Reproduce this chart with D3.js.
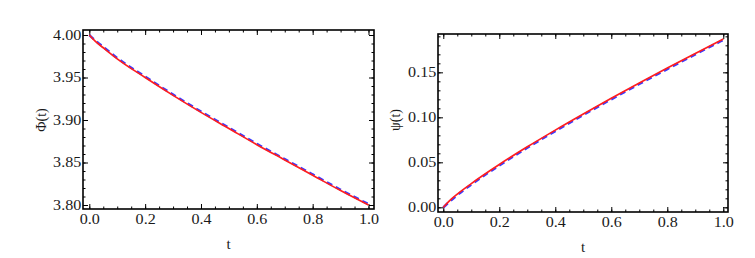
<!DOCTYPE html>
<html>
<head>
<meta charset="utf-8">
<script src="https://cdn.jsdelivr.net/npm/d3@7"></script>
<style>
  body { margin: 0; background: #fff; }
  svg { display: block; }
  .tick line { stroke: #000; stroke-width: 1; }
</style>
</head>
<body>
<div id="chart"></div>
<script>
/* values */
const tValues = [0, 0.02, 0.05, 0.1, 0.2, 0.3, 0.4, 0.5, 0.6, 0.7, 0.8, 0.9, 1.0];

const phiRed  = [4.000, 3.993, 3.985, 3.972, 3.950, 3.929, 3.909, 3.890, 3.871, 3.853, 3.835, 3.817, 3.800];
const phiBlue = [4.000, 3.994, 3.986, 3.973, 3.951, 3.930, 3.910, 3.891, 3.872, 3.854, 3.836, 3.818, 3.801];

const psiRed  = [0.000, 0.0067, 0.0147, 0.0264, 0.0476, 0.0672, 0.0858, 0.1037, 0.1211, 0.1381, 0.1547, 0.1710, 0.1870];
const psiBlue = [0.000, 0.0057, 0.0136, 0.0253, 0.0465, 0.0661, 0.0847, 0.1026, 0.1200, 0.1370, 0.1536, 0.1699, 0.1860];

const xTicks = [0, 0.2, 0.4, 0.6, 0.8, 1.0];
const phiTicks = [3.80, 3.85, 3.90, 3.95, 4.00];
const psiTicks = [0.00, 0.05, 0.10, 0.15];

const width = 755, height = 258;
const serif = "'Liberation Serif', 'Times New Roman', serif";

const svg = d3.select("#chart").append("svg")
  .attr("width", width)
  .attr("height", height);

function panel(opts) {
  const x = d3.scaleLinear().domain(opts.xDomain).range([opts.left, opts.right]);
  const y = d3.scaleLinear().domain(opts.yDomain).range([opts.bottom, opts.top]);
  const g = svg.append("g");

  const xMinor = d3.range(0, 1.0001, 0.05);
  const yMinor = d3.range(opts.yMinorFrom, opts.yDomain[1], 0.01);

  // drop the axis line, serif font, labels a little wider like the original
  const tidy = sel => {
    sel.select(".domain").remove();
    sel.attr("font-family", serif).attr("font-size", 14);
    sel.selectAll("text").attr("fill", "#1a1a1a").attr("transform", "scale(1.15,1)");
  };

  // minor ticks, all four sides
  g.append("g").attr("transform", "translate(0," + opts.bottom + ")")
    .call(d3.axisBottom(x).tickValues(xMinor).tickSize(-2.5).tickFormat("")).call(tidy);
  g.append("g").attr("transform", "translate(0," + opts.top + ")")
    .call(d3.axisTop(x).tickValues(xMinor).tickSize(-2.5).tickFormat("")).call(tidy);
  g.append("g").attr("transform", "translate(" + opts.left + ",0)")
    .call(d3.axisLeft(y).tickValues(yMinor).tickSize(-2.5).tickFormat("")).call(tidy);
  g.append("g").attr("transform", "translate(" + opts.right + ",0)")
    .call(d3.axisRight(y).tickValues(yMinor).tickSize(-2.5).tickFormat("")).call(tidy);

  // major ticks with labels on bottom / left
  g.append("g").attr("transform", "translate(0," + opts.bottom + ")")
    .call(d3.axisBottom(x).tickValues(xTicks).tickSize(-5).tickPadding(5).tickFormat(d3.format(".1f")))
    .call(tidy);
  g.append("g").attr("transform", "translate(0," + opts.top + ")")
    .call(d3.axisTop(x).tickValues(xTicks).tickSize(-5).tickFormat("")).call(tidy);
  g.append("g").attr("transform", "translate(" + opts.left + ",0)")
    .call(d3.axisLeft(y).tickValues(opts.yTicks).tickSize(-5).tickPadding(1.5).tickFormat(d3.format(".2f")))
    .call(tidy);
  g.append("g").attr("transform", "translate(" + opts.right + ",0)")
    .call(d3.axisRight(y).tickValues(opts.yTicks).tickSize(-5).tickFormat("")).call(tidy);

  const line = d3.line()
    .x((d, i) => x(tValues[i]))
    .y(d => y(d))
    .curve(d3.curveMonotoneX);

  g.append("path")
    .datum(opts.blue)
    .attr("fill", "none")
    .attr("stroke", "#3a3aff")
    .attr("stroke-width", 2.4)
    .attr("stroke-dasharray", "6,4")
    .attr("d", line);

  g.append("path")
    .datum(opts.red)
    .attr("fill", "none")
    .attr("stroke", "#ff1e1e")
    .attr("stroke-width", 1.7)
    .attr("d", line);

  // frame
  g.append("rect")
    .attr("x", opts.left)
    .attr("y", opts.top)
    .attr("width", opts.right - opts.left)
    .attr("height", opts.bottom - opts.top)
    .attr("fill", "none")
    .attr("stroke", "#000")
    .attr("stroke-width", 1.6);

  g.append("text")
    .attr("font-family", serif)
    .attr("font-size", 15)
    .attr("fill", "#1a1a1a")
    .attr("text-anchor", "middle")
    .attr("x", (opts.left + opts.right) / 2)
    .attr("y", opts.tLabelY)
    .text("t");

  g.append("text")
    .attr("font-family", serif)
    .attr("font-size", 14)
    .attr("fill", "#1a1a1a")
    .attr("text-anchor", "middle")
    .attr("transform", "translate(" + opts.yLabelX + "," + opts.yLabelY + ") rotate(-90)")
    .attr("dy", "0.35em")
    .text(opts.yLabel);
}

panel({
  left: 83, right: 374, top: 30, bottom: 209,
  xDomain: [-0.0226, 1.0197],
  yDomain: [3.7953, 4.0059],
  yMinorFrom: 3.80,
  yTicks: phiTicks,
  red: phiRed, blue: phiBlue,
  yLabel: "Φ(t)", yLabelX: 41, yLabelY: 120,
  tLabelY: 249
});

panel({
  left: 438, right: 728, top: 34, bottom: 212,
  xDomain: [-0.0189, 1.0168],
  yDomain: [-0.0052, 0.1926],
  yMinorFrom: 0.0,
  yTicks: psiTicks,
  red: psiRed, blue: psiBlue,
  yLabel: "ψ(t)", yLabelX: 395, yLabelY: 120,
  tLabelY: 252
});
</script>
</body>
</html>
